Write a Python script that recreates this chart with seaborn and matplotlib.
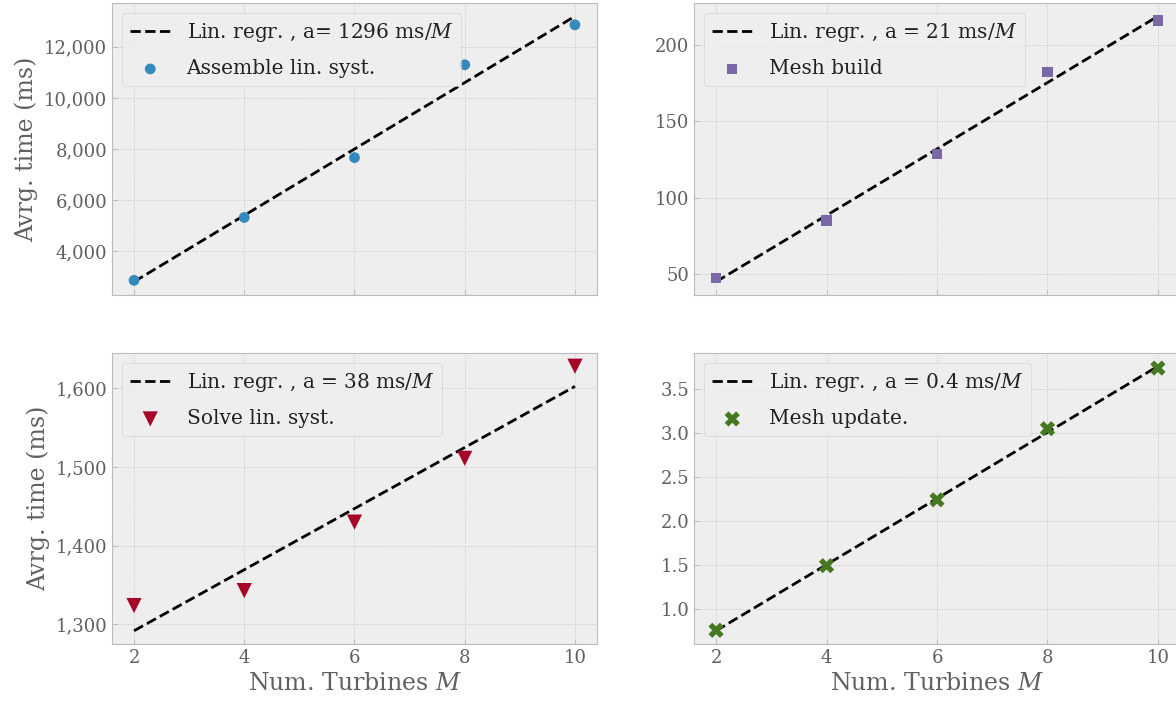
import numpy as np
import pandas as pd
import matplotlib
matplotlib.use("Agg")
import matplotlib.pyplot as plt
from matplotlib.ticker import StrMethodFormatter, MultipleLocator
import seaborn as sns

plt.style.use("bmh")
plt.rcParams["font.family"] = ["DejaVu Serif"]
plt.rcParams["mathtext.fontset"] = "dejavuserif"

turbines = [2, 4, 6, 8, 10]
assemble = [2870, 5330, 7670, 11300, 12860]
mesh_build = [47.2, 84.9, 128.4, 182.5, 216.3]
solve = [1324, 1343, 1430, 1511, 1628]
mesh_update = [0.754, 1.49, 2.24, 3.05, 3.74]

series_labels = ["Assemble lin. syst.", "Mesh build", "Solve lin. syst.", "Mesh update."]
reg_labels = [r"Lin. regr. , a= 1296 ms/$M$", r"Lin. regr. , a = 21 ms/$M$",
              r"Lin. regr. , a = 38 ms/$M$", r"Lin. regr. , a = 0.4 ms/$M$"]
colors = ["#348ABD", "#7A68A6", "#A60628", "#467821"]
markers = ["o", "s", "v", "X"]
sizes = [60, 55, 120, 120]
values = [assemble, mesh_build, solve, mesh_update]
y_steps = [2000, 50, 100, 0.5]

fig = plt.figure(figsize=(11.76, 7.02), dpi=100)
W, H = 1176, 702
def pos(x0, x1, y0, y1):
    return [x0 / W, 1 - y1 / H, (x1 - x0) / W, (y1 - y0) / H]

rects = [pos(112, 597, 3, 295), pos(694, 1180, 3, 295),
         pos(112, 597, 353, 644), pos(694, 1180, 353, 644)]
axes = [fig.add_axes(r) for r in rects]

grey = "#606060"
for i, ax in enumerate(axes):
    df = pd.DataFrame({"M": turbines, "t": values[i]})
    sns.regplot(data=df, x="M", y="t", ax=ax, scatter=False, ci=None,
                line_kws=dict(color="black", linestyle="--", linewidth=2),
                label=reg_labels[i])
    sns.scatterplot(data=df, x="M", y="t", ax=ax, color=colors[i], marker=markers[i],
                    s=sizes[i], edgecolor="none", label=series_labels[i], zorder=3)
    ax.set_xticks([2, 4, 6, 8, 10])
    ax.yaxis.set_major_locator(MultipleLocator(y_steps[i]))
    ax.tick_params(labelsize=13, labelcolor=grey, color="#bcbcbc")
    ax.grid(True, color="#c4c4c4", linestyle=":", linewidth=0.7)
    leg = ax.legend(loc="upper left", fontsize=14.5, labelspacing=0.75)
    for t in leg.get_texts():
        t.set_color("#222222")
    if i < 2:
        ax.set_xticklabels([])
        ax.set_xlabel("")
    else:
        ax.set_xlabel(r"Num. Turbines $M$", fontsize=17, color=grey)
    if i % 2 == 0:
        ax.set_ylabel("Avrg. time (ms)", fontsize=17, color=grey)
    else:
        ax.set_ylabel("")

axes[0].yaxis.set_major_formatter(StrMethodFormatter("{x:,.0f}"))
axes[2].yaxis.set_major_formatter(StrMethodFormatter("{x:,.0f}"))
axes[3].yaxis.set_major_formatter(StrMethodFormatter("{x:.1f}"))

fig.savefig("out.png", dpi=100)
